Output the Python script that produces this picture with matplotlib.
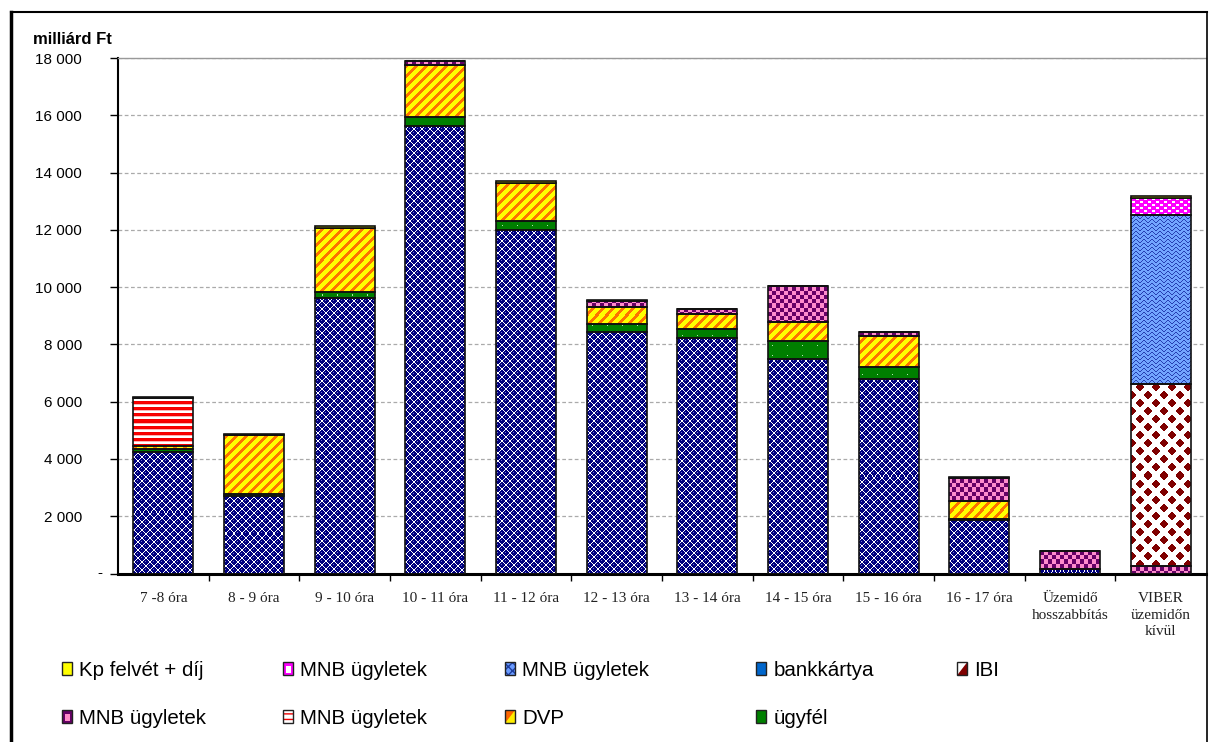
import numpy as np
import matplotlib
matplotlib.use('Agg')
import matplotlib.pyplot as plt
from matplotlib.patches import Rectangle, Polygon, Patch
from matplotlib.legend_handler import HandlerBase
from matplotlib.transforms import blended_transform_factory
from matplotlib.lines import Line2D

# ---------------- data ----------------
categories = ['7 -8 óra', '8 - 9 óra', '9 - 10 óra', '10 - 11 óra', '11 - 12 óra',
              '12 - 13 óra', '13 - 14 óra', '14 - 15 óra', '15 - 16 óra', '16 - 17 óra',
              'Üzemidő\nhosszabbítás', 'VIBER\nüzemidőn\nkívül']
# stacked from bottom to top
bankkozi      = [4240, 2700, 9625, 15620, 12010, 8440, 8240, 7490, 6780, 1870, 150, 0]
ugyfel        = [100, 80, 210, 320, 300, 267, 314, 625, 440, 30, 0, 0]
dvp           = [115, 2060, 2235, 1800, 1310, 600, 510, 655, 1070, 630, 0, 0]
mnb_stripes   = [1690, 0, 0, 0, 0, 0, 0, 0, 0, 0, 0, 0]
mnb_checks    = [0, 0, 0, 150, 0, 225, 160, 1260, 140, 815, 630, 262]
ibi           = [0, 0, 0, 0, 0, 0, 0, 0, 0, 0, 0, 6360]
bankkartya    = [0, 0, 0, 0, 0, 0, 0, 0, 0, 0, 0, 0]
mnb_weave     = [0, 0, 0, 0, 0, 0, 0, 0, 0, 0, 0, 5910]
mnb_magenta   = [0, 0, 0, 0, 0, 0, 0, 0, 0, 0, 0, 580]
kp            = [20, 30, 60, 20, 90, 20, 20, 20, 20, 10, 10, 85]

y_ticks = [0, 2000, 4000, 6000, 8000, 10000, 12000, 14000, 16000, 18000]
y_ticklabels = ['', '2 000', '4 000', '6 000', '8 000', '10 000', '12 000', '14 000', '16 000', '18 000']

legend_labels = ['Kp felvét + díj', 'MNB ügyletek', 'MNB ügyletek', 'bankkártya', 'IBI',
                 'MNB ügyletek', 'MNB ügyletek', 'DVP', 'ügyfél']

# ---------------- colours / tiles ----------------
NAVY = (0.0, 0.0, 0.5)
WHITE = (1.0, 1.0, 1.0)

def grid(n, m):
    r, c = np.mgrid[0:n, 0:m]
    return r, c

def tile_circles():
    n = 8
    t = np.ones((n, n, 3))
    yy, xx = np.mgrid[0:n, 0:n] + 0.5
    for cx, cy in [(2, 2), (6, 6)]:
        dx = (xx - cx + n / 2) % n - n / 2
        dy = (yy - cy + n / 2) % n - n / 2
        d = np.hypot(dx, dy)
        t[d <= 2.85] = NAVY
        t[(np.abs(dx + 0.8) < 0.6) & (np.abs(dy + 0.8) < 0.6)] = (0.45, 0.45, 0.8)
    return t

def tile_green():
    t = np.empty((10, 15, 3)); t[:] = (0.0, 0.5, 0.0)
    t[5, 7] = (0.7, 0.9, 0.7)
    return t

def tile_dvp():
    r, c = grid(10, 10)
    t = np.empty((10, 10, 3)); t[:] = (1.0, 1.0, 0.0)
    t[(r + c) % 10 < 4] = (1.0, 0.45, 0.0)
    return t

def tile_stripes():
    rows = [(0.95, 0, 0), (1, 0, 0), (0.95, 0, 0), (1, 0.7, 0.7), (1, 1, 1), (1, 1, 1)]
    return np.array(rows, dtype=float).reshape(6, 1, 3)

def tile_checks():
    r, c = grid(8, 8)
    t = np.empty((8, 8, 3)); t[:] = (1.0, 0.55, 0.8)
    t[((r // 4) + (c // 4)) % 2 == 0] = (0.4, 0.0, 0.4)
    return t

def tile_diamonds():
    n = 16
    t = np.ones((n, n, 3))
    yy, xx = np.mgrid[0:n, 0:n] + 0.5
    for cx, cy in [(4, 4), (12, 12)]:
        dx = (xx - cx + n / 2) % n - n / 2
        dy = (yy - cy + n / 2) % n - n / 2
        t[np.abs(dx) + np.abs(dy) <= 4.6] = (0.5, 0.0, 0.0)
    return t

def tile_weave():
    r, c = grid(8, 8)
    t = np.empty((8, 8, 3)); t[:] = (0.45, 0.65, 1.0)
    zig = np.where(c < 4, c, 7 - c)
    t[(r - zig) % 4 == 0] = (0.15, 0.25, 0.7)
    return t

def tile_magenta():
    t = np.empty((6, 8, 3)); t[:] = (1.0, 0.0, 1.0)
    t[0:2, 0:3] = WHITE
    t[3:5, 4:7] = WHITE
    return t

# ---------------- figure ----------------
W, H = 1209, 742
plt.rcParams['font.family'] = ['Liberation Sans', 'DejaVu Sans']
plt.rcParams['hatch.linewidth'] = 1.0
fig = plt.figure(figsize=(W / 100, H / 100), dpi=100)
ax = fig.add_axes([118 / W, (H - 573.5) / H, (1206 - 118) / W, (573.5 - 58) / H])
ax.set_xlim(-0.5, len(categories) - 0.5)
ax.set_ylim(0, 18000)

x = np.arange(len(categories))
series = [
    (bankkozi, tile_circles(), None),
    (ugyfel, tile_green(), None),
    (dvp, tile_dvp(), None),
    (mnb_stripes, tile_stripes(), None),
    (mnb_checks, tile_checks(), None),
    (ibi, tile_diamonds(), None),
    (bankkartya, None, '#0066CC'),
    (mnb_weave, tile_weave(), None),
    (mnb_magenta, tile_magenta(), None),
    (kp, None, '#FFFF00'),
]

def paint(bars, tile):
    for p in bars:
        x0, y0, w, h = p.get_x(), p.get_y(), p.get_width(), p.get_height()
        if h <= 0:
            continue
        (px0, py0), (px1, py1) = ax.transData.transform([(x0, y0), (x0 + w, y0 + h)])
        nx = int(round(px1 - px0)); ny = int(round(py1 - py0))
        if nx < 1 or ny < 1:
            continue
        c0 = int(round(px0)); r0 = int(round(H - py1))
        cols = (np.arange(nx) + c0) % tile.shape[1]
        rows = (np.arange(ny) + r0) % tile.shape[0]
        img = tile[rows][:, cols]
        ax.imshow(img, extent=(x0, x0 + w, y0, y0 + h), origin='upper',
                  interpolation='nearest', aspect='auto', zorder=2)

bottom = np.zeros(len(categories))
for vals, tile, color in series:
    vals = np.asarray(vals, dtype=float)
    bars = ax.bar(x, vals, bottom=bottom, width=0.66,
                  color=color if color else 'none', edgecolor='#111111',
                  linewidth=1.2, zorder=3)
    if tile is not None:
        paint(bars, tile)
    bottom += vals

ax.set_xlim(-0.5, len(categories) - 0.5)
ax.set_ylim(0, 18000)

# axes styling
ax.set_yticks(y_ticks)
ax.set_yticklabels(y_ticklabels, fontsize=11)
ax.tick_params(axis='y', direction='out', length=6, width=1, pad=20, colors='black')
ax.set_xticks(x)
ax.set_xticklabels(categories, fontsize=11, family=['Liberation Serif', 'DejaVu Serif'],
                   color='#222222', linespacing=1.35)
ax.tick_params(axis='x', which='major', length=0, pad=13.5)
ax.set_xticks(np.arange(0.5, len(categories) - 0.5, 1), minor=True)
ax.tick_params(axis='x', which='minor', direction='out', length=5, width=1)
ax.yaxis.grid(True, color='#AAAAAA', linestyle=(0, (3, 2)), linewidth=0.9)
ax.set_axisbelow(True)
ax.spines['left'].set_linewidth(1.5)
ax.spines['bottom'].set_linewidth(2.2)
ax.spines['top'].set_color('#999999')
ax.spines['top'].set_linewidth(1.0)
ax.spines['right'].set_visible(False)

ax.text(-0.0165, 0, '-', transform=blended_transform_factory(ax.transAxes, ax.transData),
        ha='center', va='center', fontsize=11)
fig.text(33 / W, 1 - 40 / H, 'milliárd Ft', ha='left', va='center', fontsize=12,
         fontweight='bold')

# outer border
for xs, ys, lw in [([10.5 / W, 10.5 / W], [0, 1 - 12 / H], 2.5),
                   ([10.5 / W, 1206.5 / W], [1 - 12 / H, 1 - 12 / H], 1.5),
                   ([1206.5 / W, 1206.5 / W], [0, 1 - 12 / H], 1.2)]:
    fig.add_artist(Line2D(xs, ys, transform=fig.transFigure, color='black', linewidth=lw))

# ---------------- legend ----------------
class Swatch(HandlerBase):
    def __init__(self, spec):
        super().__init__()
        self.spec = spec

    def create_artists(self, legend, orig_handle, xdescent, ydescent, width, height,
                       fontsize, trans):
        s = self.spec
        x0, y0 = -xdescent, -ydescent
        arts = []
        if s.get('kind') == 'split':
            arts.append(Rectangle((x0, y0), width, height, facecolor=s['face'], lw=0,
                                  transform=trans))
            arts.append(Polygon([(x0 + width, y0), (x0 + width, y0 + height), (x0, y0)],
                                closed=True, facecolor=s['face2'], lw=0, transform=trans))
        else:
            arts.append(Rectangle((x0, y0), width, height, facecolor=s['face'],
                                  edgecolor=s.get('hc', s['face']), hatch=s.get('hatch'),
                                  lw=0, transform=trans))
            if 'inner' in s:
                arts.append(Rectangle((x0 + width * 0.3, y0 + height * 0.15), width * 0.45,
                                      height * 0.55, facecolor=s['inner'], lw=0,
                                      transform=trans))
        arts.append(Rectangle((x0, y0), width, height, fill=False, edgecolor='#222222',
                              lw=1.0, transform=trans))
        return arts

legend_specs = [
    dict(face='#FFFF00'),
    dict(face='#FF00FF', inner='white'),
    dict(face='#6A9BFF', hatch='xxxx', hc='#1F3F9F'),
    dict(face='#0066CC'),
    dict(kind='split', face='white', face2='#800000'),
    dict(face='#660066', inner='#FF8AC8'),
    dict(face='white', hatch='---', hc='#EE0000'),
    dict(kind='split', face='#FF6600', face2='#FFEE00'),
    dict(face='#008000'),
]
handles = [Patch(label=l) for l in legend_labels]
hmap = {h: Swatch(s) for h, s in zip(handles, legend_specs)}
col_x = [62, 283, 505, 756, 957]
columns = [[0, 5], [1, 6], [2, 7], [3, 8], [4]]
for cx, idx in zip(col_x, columns):
    leg = fig.legend([handles[i] for i in idx], [legend_labels[i] for i in idx],
                     handler_map=hmap, loc='upper left',
                     bbox_to_anchor=(cx / W, 1 - 661 / H), ncol=1, frameon=False,
                     prop={'family': ['Liberation Sans', 'DejaVu Sans'], 'size': 14.8},
                     handlelength=0.5, handleheight=0.62, handletextpad=0.35,
                     labelspacing=1.4, borderpad=0, borderaxespad=0)

fig.savefig('out.png', dpi=100)
